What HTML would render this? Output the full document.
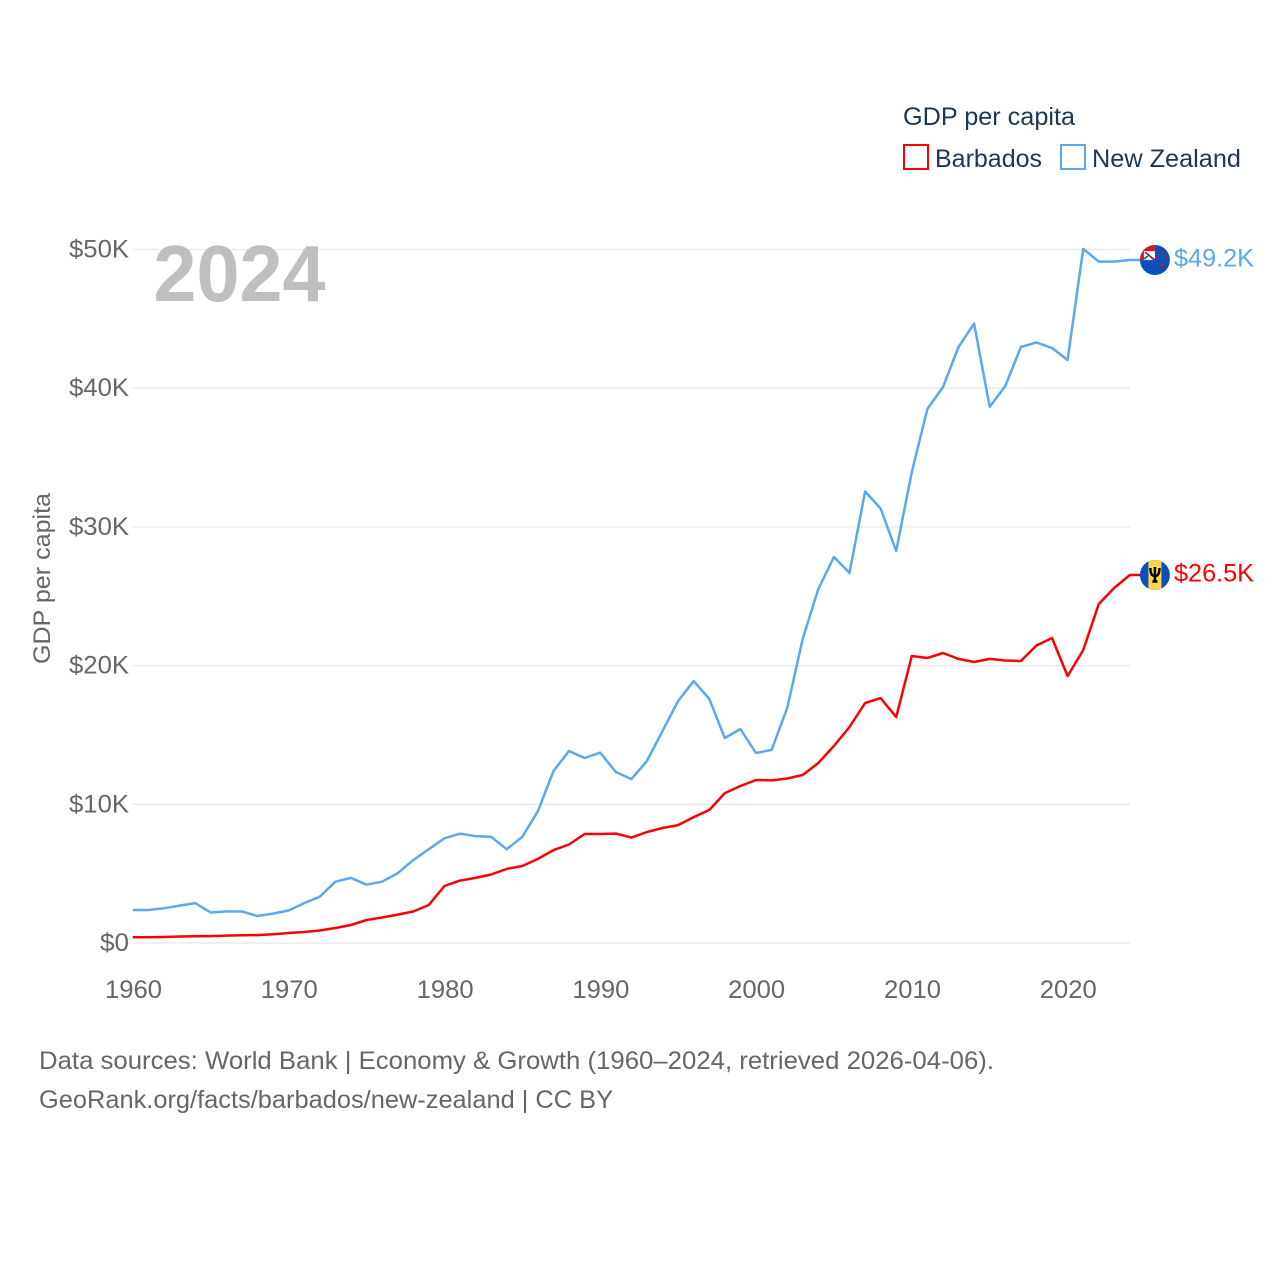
<!DOCTYPE html>
<html lang="en">
<head>
<meta charset="utf-8">
<title>GDP per capita: Barbados and New Zealand</title>
<style>
html,body{margin:0;padding:0;background:#fff;}
svg{display:block;}
text{font-family:"Liberation Sans",sans-serif;}
</style>
</head>
<body>
<svg id="chart" xmlns="http://www.w3.org/2000/svg" width="1280" height="1280" viewBox="0 0 1280 1280">
  <rect width="1280" height="1280" fill="#ffffff"/>
  <defs>
    <clipPath id="flag-clip"><circle cx="0" cy="0" r="15"/></clipPath>
  </defs>
  <g id="grid"></g>
  <g id="y-ticks"></g>
  <g id="x-ticks"></g>
  <text x="153.5" y="301" font-size="80" font-weight="700" fill="#bfbfbf" textLength="172" lengthAdjust="spacingAndGlyphs">2024</text>
  <text transform="translate(50,664) rotate(-90)" font-size="24" fill="#666666" textLength="171" lengthAdjust="spacingAndGlyphs">GDP per capita</text>
  <g id="series"></g>
  <g id="flag-nz">
    <g clip-path="url(#flag-clip)">
      <rect x="-15" y="-15" width="30" height="30" fill="#0b50b8"/>
      <rect x="-15" y="-15" width="15" height="15" fill="#ffffff"/>
      <rect x="-15" y="-15" width="15" height="6" fill="#d8112f"/>
      <rect x="-15" y="-15" width="4" height="15" fill="#d8112f"/>
      <path d="M-10 -8 L0 0 M-11 -1 L-7 -4" stroke="#0b50b8" stroke-width="1.6" fill="none"/>
      <path d="M-9 -7 L-1 0" stroke="#d8112f" stroke-width="1.2" fill="none"/>
      <circle cx="7" cy="-7" r="1.3" fill="#d8112f"/>
      <circle cx="2" cy="-3" r="1.3" fill="#d8112f"/>
      <circle cx="12" cy="-2" r="1.2" fill="#d8112f"/>
      <circle cx="7" cy="5" r="1.6" fill="#d8112f"/>
    </g>
  </g>
  <g id="flag-bb">
    <g clip-path="url(#flag-clip)">
      <rect x="-15" y="-15" width="30" height="30" fill="#0b50b8"/>
      <rect x="-6.5" y="-15" width="13" height="30" fill="#ffd54a"/>
      <path d="M0 -8 V6.5 M-4.5 -7 C-4.5 -1 -3 1 0 1 C3 1 4.5 -1 4.5 -7 M-2.5 6.5 H2.5" stroke="#000000" stroke-width="2.5" fill="none"/>
    </g>
  </g>
  <g id="end-labels"></g>
  <g>
    <text x="903" y="125" font-size="25" fill="#1d3557" textLength="172" lengthAdjust="spacingAndGlyphs">GDP per capita</text>
    <g>
      <rect x="904" y="145" width="24" height="24" fill="none" stroke="#ff0000" stroke-width="2"/>
      <text x="935" y="167" font-size="25" fill="#1d3557" textLength="107" lengthAdjust="spacingAndGlyphs">Barbados</text>
    </g>
    <g>
      <rect x="1061" y="145" width="24" height="24" fill="none" stroke="#5ba8ee" stroke-width="2"/>
      <text x="1092" y="167" font-size="25" fill="#1d3557" textLength="149" lengthAdjust="spacingAndGlyphs">New Zealand</text>
    </g>
  </g>
  <text x="39" y="1069" font-size="25" fill="#666666" textLength="955" lengthAdjust="spacingAndGlyphs">Data sources: World Bank | Economy &amp; Growth (1960–2024, retrieved 2026-04-06).</text>
  <text x="39" y="1108" font-size="25" fill="#666666" textLength="574" lengthAdjust="spacingAndGlyphs">GeoRank.org/facts/barbados/new-zealand | CC BY</text>
</svg>
<script>
const firstYear = 1960;
const yearTicks = [1960, 1970, 1980, 1990, 2000, 2010, 2020];
const valueTicks = [0, 10, 20, 30, 40, 50];
const valueTickLabels = ["$0", "$10K", "$20K", "$30K", "$40K", "$50K"];
const barbadosValues = [0.41,0.42,0.43,0.47,0.48,0.50,0.53,0.56,0.57,0.63,0.72,0.79,0.90,1.08,1.30,1.66,1.84,2.05,2.27,2.74,4.11,4.50,4.69,4.94,5.34,5.55,6.06,6.70,7.10,7.86,7.86,7.89,7.60,8.00,8.29,8.50,9.08,9.59,10.81,11.32,11.75,11.72,11.86,12.11,12.98,14.20,15.57,17.30,17.66,16.29,20.69,20.55,20.91,20.48,20.26,20.48,20.37,20.33,21.45,21.99,19.25,21.12,24.44,25.60,26.53];
const newZealandValues = [2.38,2.38,2.50,2.70,2.88,2.20,2.27,2.27,1.95,2.12,2.34,2.88,3.34,4.42,4.69,4.20,4.42,5.03,5.98,6.76,7.55,7.88,7.71,7.66,6.76,7.66,9.50,12.40,13.84,13.34,13.73,12.33,11.82,13.12,15.28,17.45,18.89,17.60,14.78,15.43,13.70,13.92,16.94,21.92,25.52,27.83,26.68,32.55,31.33,28.26,33.96,38.50,40.09,42.97,44.66,38.65,40.16,42.97,43.30,42.90,42.03,50.04,49.13,49.13,49.24];
const barbadosEndLabel = "$26.5K";
const newZealandEndLabel = "$49.2K";

const NS = "http://www.w3.org/2000/svg";
function xScale(year) { return 132.8 + (year - 1960) * 15.58; }
function yScale(value) { return 943 - value * 13.87; }
function make(tag, parentId) {
  const el = document.createElementNS(NS, tag);
  document.getElementById(parentId).appendChild(el);
  return el;
}

valueTicks.forEach(function (tick, i) {
  const line = make("line", "grid");
  
  
  line.setAttribute("x1", xScale(1960));
  line.setAttribute("x2", xScale(2024));
  line.setAttribute("y1", yScale(tick));
  line.setAttribute("y2", yScale(tick));
  line.setAttribute("stroke", "#e8e8e8");
  line.setAttribute("stroke-width", "1.3");

  const label = make("text", "y-ticks");
  
  
  label.setAttribute("x", 129);
  label.setAttribute("y", yScale(tick) + 8);
  label.setAttribute("text-anchor", "end");
  label.setAttribute("font-size", "25");
  label.setAttribute("fill", "#666666");
  label.setAttribute("textLength", valueTickLabels[i].length > 2 ? "60" : "29");
  label.setAttribute("lengthAdjust", "spacingAndGlyphs");
  label.textContent = valueTickLabels[i];
});

yearTicks.forEach(function (year) {
  const label = make("text", "x-ticks");
  
  
  label.setAttribute("x", xScale(year) + 0.7);
  label.setAttribute("y", 998);
  label.setAttribute("text-anchor", "middle");
  label.setAttribute("font-size", "25");
  label.setAttribute("fill", "#666666");
  label.setAttribute("textLength", "57");
  label.setAttribute("lengthAdjust", "spacingAndGlyphs");
  label.textContent = String(year);
});

function drawSeries(values, color, seriesName, labelName, labelText, flagId) {
  const last = values[values.length - 1];
  const lastYear = firstYear + values.length - 1;
  const points = values.map(function (v, i) {
    return xScale(firstYear + i).toFixed(1) + "," + yScale(v).toFixed(1);
  });
  points.push("1141," + yScale(last).toFixed(1));

  const line = make("polyline", "series");
  
  
  line.setAttribute("points", points.join(" "));
  line.setAttribute("fill", "none");
  line.setAttribute("stroke", color);
  line.setAttribute("stroke-width", "2.5");
  line.setAttribute("stroke-linejoin", "round");

  document.getElementById(flagId).setAttribute("transform", "translate(" + (xScale(lastYear) + 25) + "," + yScale(last) + ")");

  const label = make("text", "end-labels");
  
  
  label.setAttribute("x", 1174);
  label.setAttribute("y", yScale(last) + 6.5);
  label.setAttribute("font-size", "25");
  label.setAttribute("fill", color);
  label.setAttribute("textLength", "80");
  label.setAttribute("lengthAdjust", "spacingAndGlyphs");
  label.textContent = labelText;
}

drawSeries(newZealandValues, "#5ba8ee", "new-zealand-line", "new-zealand-end-label", newZealandEndLabel, "flag-nz");
drawSeries(barbadosValues, "#ff0000", "barbados-line", "barbados-end-label", barbadosEndLabel, "flag-bb");
</script>
</body>
</html>
